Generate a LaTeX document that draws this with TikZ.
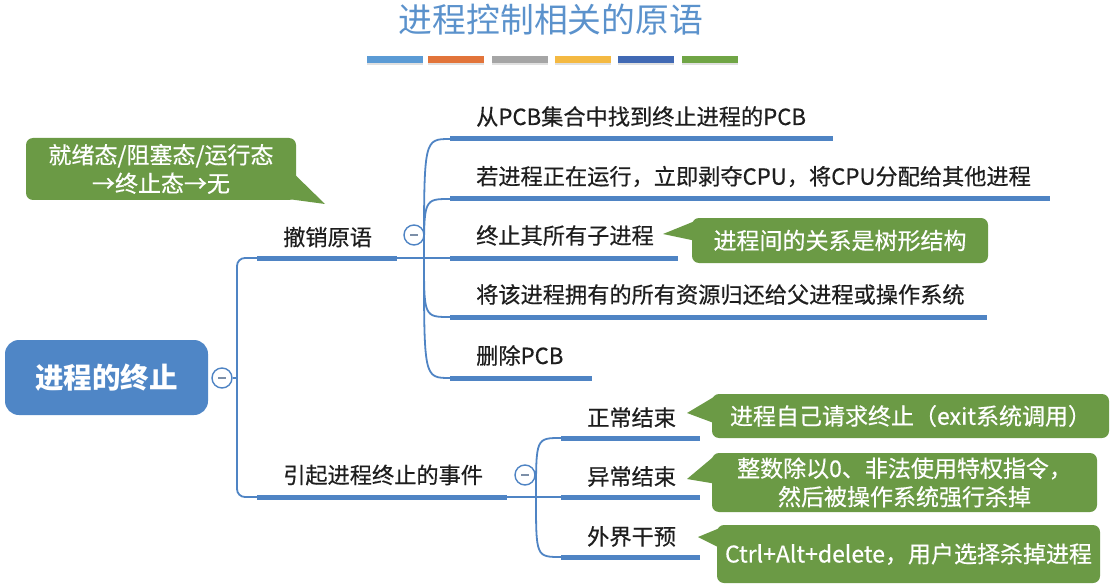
\documentclass[tikz,border=0pt]{standalone}
\usepackage{fontspec}
\newfontfamily\cjk{Noto Sans CJK SC}
\newfontfamily\cjkmed[FakeBold=0.5]{Noto Sans CJK SC}
\usetikzlibrary{calc}

\definecolor{linkblue}{HTML}{4F84C4}
\definecolor{rootblue}{HTML}{4F86C6}
\definecolor{notegreen}{HTML}{6B9A45}
\definecolor{titleblue}{HTML}{5B92CC}
\definecolor{barA}{HTML}{5B9BD5}
\definecolor{barB}{HTML}{E2743A}
\definecolor{barC}{HTML}{A5A5A5}
\definecolor{barD}{HTML}{F4B942}
\definecolor{barE}{HTML}{4169B4}
\definecolor{barF}{HTML}{70A545}
\definecolor{inktext}{HTML}{1E1E1E}
\definecolor{minusgray}{HTML}{7C8FA8}

\tikzset{
  branchtext/.style={font=\cjkmed\fontsize{22.2}{22.2}\selectfont, text=inktext,
                     inner sep=0pt, anchor=west},
  notebox/.style={fill=notegreen, rounded corners=7pt, draw=none, inner sep=0pt,
                  text=white, align=center, font=\cjkmed\fontsize{23}{28.5}\selectfont},
  underline/.style={line width=5pt, draw=linkblue},
  thinlink/.style={line width=1.8pt, draw=linkblue},
  foldmark/.style={circle, draw=linkblue, fill=white, line width=1.4pt,
                   minimum size=20pt, inner sep=0pt},
  bar/.style={minimum width=56pt, minimum height=6.5pt, inner sep=0pt},
}

% a collapse marker: circle with a minus inside
\newcommand{\foldat}[2]{%
  \node[foldmark] (#1) at #2 {};
  \draw[minusgray, line width=1.3pt] ($(#1.center)+(-4,0)$) -- ($(#1.center)+(4,0)$);
}

\begin{document}
\begin{tikzpicture}[x=1pt,y=-1pt]
\useasboundingbox (0,0) rectangle (1113,588);

% ---- title and colour strip ----
\node[font=\cjk\fontsize{33.8}{34}\selectfont, text=titleblue, inner sep=0pt]
  (title) at (551,20) {进程控制相关的原语};
\foreach \c/\x [count=\i] in {barA/394.5, barB/456, barC/520, barD/583, barE/646, barF/710}{
  \node[bar, fill=black!12] at (\x,61.5) {};
  \node[bar, fill=\c] (bar\i) at (\x,59.5) {};
}

% ---- root ----
\node[fill=rootblue, rounded corners=14pt, minimum width=203pt, minimum height=75pt,
      inner sep=0pt, text=white, font=\cjk\bfseries\fontsize{28.5}{30}\selectfont]
      (root) at (106.5,377.5) {进程的终止};
\foldat{rootfold}{(222,378)}

% ---- first level ----
\node[branchtext] (revoke) at (283,237) {撤销原语};
\node[branchtext] (event) at (283,475) {引起进程终止的事件};
\coordinate (revokeL) at (257,258);
\coordinate (revokeR) at (397,258);
\coordinate (revokeB) at (424,258);
\coordinate (eventL) at (257,497);
\coordinate (eventR) at (507,497);
\coordinate (eventB) at (536,497);
\coordinate (trunk) at (237,378);

\draw[thinlink] (rootfold.east) -- (trunk);
\draw[thinlink, rounded corners=8pt] (revokeL) -- (237,258) -- (237,497) -- (eventL);
\draw[underline] (revokeL) -- (revokeR);
\draw[underline] (eventL) -- (eventR);
\draw[thinlink] (revokeR) -- (revokeB) -- (450,258);
\draw[thinlink] (eventR) -- (eventB) -- (561,497);
\foldat{revokefold}{(414,235)}
\foldat{eventfold}{(525,475)}

% ---- steps of the revoke primitive ----
\foreach \name/\y/\len/\txt in {
  findpcb/139/833/{从PCB集合中找到终止进程的PCB},
  preempt/199/1050/{若进程正在运行，立即剥夺CPU，将CPU分配给其他进程},
  killkids/258/678/{终止其所有子进程},
  giveback/317/987/{将该进程拥有的所有资源归还给父进程或操作系统},
  delpcb/378/592/{删除PCB}}{
  \node[branchtext] (\name) at (476,\y-22.5) {\txt};
  \coordinate (\name L) at (450,\y);
  \coordinate (\name R) at (\len,\y);
  \draw[underline] (\name L) -- (\name R);
  \draw[thinlink] (revokeB) .. controls (424,\y) .. (\name L);
}

% ---- causes of termination ----
\foreach \name/\y/\txt in {
  normal/438/{正常结束},
  abnormal/497/{异常结束},
  outside/557/{外界干预}}{
  \node[branchtext] (\name) at (587,\y-20.5) {\txt};
  \coordinate (\name L) at (561,\y);
  \coordinate (\name R) at (700,\y);
  \draw[underline] (\name L) -- (\name R);
  \draw[thinlink] (eventB) .. controls (536,\y) .. (\name L);
}

% ---- callouts ----
\node[notebox, minimum width=270pt, minimum height=62pt] (stateNote) at (161,169)
  {就绪态/阻塞态/运行态\\→终止态→无};
\coordinate (stateTip) at (325,204);
\fill[notegreen] ($(stateNote.east)+(-4,3)$) -- (stateTip) -- ($(stateNote.south east)+(-14,-2)$) -- cycle;

\node[notebox, minimum width=296pt, minimum height=45pt] (treeNote) at (840,240.5)
  {进程间的关系是树形结构};
\coordinate (treeTip) at (663,234);
\fill[notegreen] ($(treeNote.west)+(2,-19)$) -- (treeTip) -- ($(treeNote.west)+(2,0)$) -- cycle;

\node[notebox, minimum width=397pt, minimum height=44pt] (normalNote) at (910.5,416)
  {进程自己请求终止（exit系统调用）};
\coordinate (normalTip) at (687,413);
\fill[notegreen] ($(normalNote.west)+(2,-19)$) -- (normalTip) -- ($(normalNote.west)+(2,7)$) -- cycle;

\node[notebox, minimum width=385pt, minimum height=59pt] (abnormalNote) at (904.5,482.5)
  {整数除以0、非法使用特权指令，\\然后被操作系统强行杀掉};
\coordinate (abnormalTip) at (687,479);
\fill[notegreen] ($(abnormalNote.west)+(2,-26)$) -- (abnormalTip) -- ($(abnormalNote.west)+(2,1)$) -- cycle;

\node[notebox, minimum width=383pt, minimum height=58pt] (outsideNote) at (908.5,554)
  {Ctrl+Alt+delete，用户选择杀掉进程};
\coordinate (outsideTip) at (698,537);
\fill[notegreen] ($(outsideNote.west)+(3,-26)$) -- (outsideTip) -- ($(outsideNote.west)+(3,-6)$) -- cycle;

\end{tikzpicture}
\end{document}
